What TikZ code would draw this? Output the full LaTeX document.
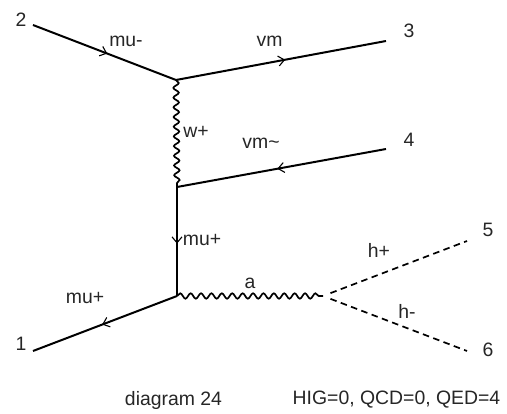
\documentclass[tikz,border=0pt]{standalone}
\usepackage{fontspec}
\setmainfont{Liberation Sans}
\usetikzlibrary{decorations.pathmorphing,decorations.markings,arrows.meta}
\tikzset{
 px/.style={x=1pt,y=-1pt},
 fermion/.style={line width=2pt,black,postaction={decorate},decoration={markings,mark=at position 0.52 with {\arrow[line width=1.1pt]{Straight Barb[length=6pt,width=10pt]}}}},
 bosonv/.style={line width=1.7pt,decorate,decoration={snake,amplitude=2.7pt,segment length=9.7pt}},
 bosonh/.style={line width=1.7pt,decorate,decoration={snake,amplitude=2.7pt,segment length=10.4pt}},
 scalar/.style={line width=1.7pt,dash pattern=on 6.5pt off 4.5pt,shorten <=8pt},
 lbl/.style={font=\fontsize{19.4pt}{21pt}\selectfont,inner sep=0pt,text=black!85}
}
\begin{document}
\begin{tikzpicture}[px]
\useasboundingbox (0,0) rectangle (507,414);
\coordinate (e2) at (33,25);
\coordinate (v1) at (176,80);
\coordinate (e3) at (386,41);
\coordinate (v2) at (177,187);
\coordinate (e4) at (386,149);
\coordinate (v3) at (177,296);
\coordinate (e1) at (33,351);
\coordinate (v4) at (323,296);
\coordinate (e5) at (467,241);
\coordinate (e6) at (467,351);
\draw[fermion] (e2) -- (v1);
\draw[fermion] (v1) -- (e3);
\draw[bosonv] (v1) -- (v2);
\draw[fermion] (e4) -- (v2);
\draw[fermion] (v2) -- (v3);
\draw[fermion] (v3) -- (e1);
\draw[bosonh] (v3) -- (v4);
\draw[scalar] (v4) -- (e5);
\draw[scalar] (v4) -- (e6);
\node[lbl] (n2) at (21,20) {2};
\node[lbl] (n3) at (409,31) {3};
\node[lbl] (n4) at (409,140) {4};
\node[lbl] (n5) at (488,230) {5};
\node[lbl] (n6) at (488,350) {6};
\node[lbl] (n1) at (21,344) {1};
\node[lbl] (l1) at (126,41) {mu-};
\node[lbl] (l2) at (269.5,41) {vm};
\node[lbl] (l3) at (196,132) {w+};
\node[lbl] (l4) at (261,143) {vm\char"007E};
\node[lbl] (l5) at (202,240) {mu+};
\node[lbl] (l6) at (85,298) {mu+};
\node[lbl] (l7) at (250,283) {a};
\node[lbl] (l8) at (379,250) {h+};
\node[lbl] (l9) at (407,311) {h-};
\node[lbl] (t1) at (173.5,400) {diagram 24};
\node[lbl] (t2) at (396.5,400) {HIG=0, QCD=0, QED=4};
\end{tikzpicture}
\end{document}
